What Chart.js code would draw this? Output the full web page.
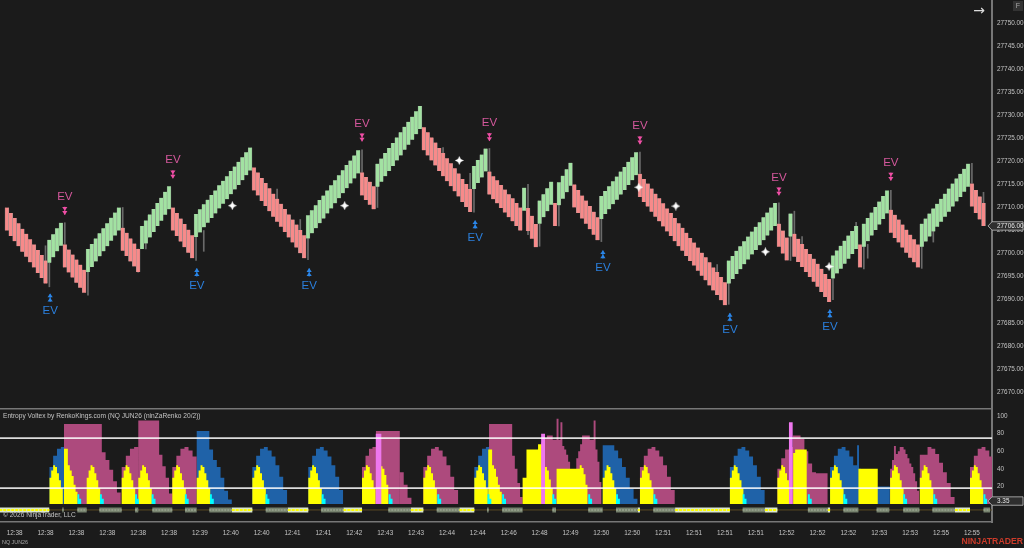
<!DOCTYPE html>
<html>
<head>
<meta charset="utf-8">
<title>NQ JUN26 Entropy Voltex</title>
<script src="https://cdn.jsdelivr.net/npm/chart.js@4"></script>
<style>
    html, body { margin: 0; background: #1b1b1b; overflow: hidden; }
    canvas { position: absolute; left: 0; display: block; }
    #priceChart { top: 0; }
    #voltexChart { top: 410px; }
</style>
</head>
<body>
<canvas id="priceChart" width="1024" height="410"></canvas>
<canvas id="voltexChart" width="1024" height="138"></canvas>
<script>
// Renko bricks, one row per swing
const barOpen = [
    27710.0,27708.8,27707.7,27706.6,27705.4,27704.3,27703.1,27702.0,27700.8,27699.7,27698.5,
    27698.0,27699.2,27700.5,27701.7,
    27702.0,27700.9,27699.8,27698.7,27697.6,27696.5,
    27696.0,27697.1,27698.3,27699.4,27700.5,27701.6,27702.8,27703.9,27705.0,
    27705.6,27704.5,27703.3,27702.2,27701.0,
    27701.0,27702.2,27703.5,27704.7,27706.0,27707.1,27708.4,27709.6,
    27710.0,27708.8,27707.6,27706.4,27705.2,27704.0,
    27703.6,27704.6,27705.7,27706.7,27707.7,27708.7,27709.8,27710.8,27711.8,27712.9,27713.9,27714.9,27715.9,27717.0,27718.0,
    27718.7,27717.6,27716.4,27715.3,27714.2,27713.0,27711.9,27710.8,27709.7,27708.5,27707.4,27706.3,27705.1,27704.0,
    27703.3,27704.4,27705.5,27706.6,27707.6,27708.7,27709.8,27710.9,27712.0,27713.1,27714.2,27715.2,27716.3,27717.4,
    27717.6,27716.6,27715.6,27714.6,
    27714.5,27715.6,27716.8,27717.9,27719.0,27720.2,27721.3,27722.5,27723.6,27724.7,27725.9,27727.0,
    27727.4,27726.3,27725.2,27724.1,27722.9,27721.8,27720.7,27719.6,27718.5,27717.4,27716.2,27715.1,27714.0,
    27714.0,27715.3,27716.5,27717.8,
    27717.8,27716.8,27715.9,27714.9,27713.9,27712.9,27712.0,27711.0,27710.0,
    27709.3,
    27709.9,27708.2,27706.4,
    27706.5,27707.9,27709.2,27710.6,
    27711.0,
    27710.5,27711.9,27713.3,27714.7,
    27715.0,27713.8,27712.6,27711.5,27710.3,27709.1,27707.9,
    27707.5,27708.6,27709.6,27710.7,27711.7,27712.8,27713.8,27714.9,27715.9,27717.0,
    27717.3,27716.2,27715.2,27714.1,27713.0,27712.0,27710.9,27709.8,27708.8,27707.7,27706.6,27705.6,27704.5,27703.4,27702.4,27701.3,27700.2,27699.2,27698.1,27697.0,27696.0,27694.9,27693.8,
    27693.5,27694.5,27695.6,27696.6,27697.7,27698.7,27699.8,27700.8,27701.8,27702.9,27703.9,27705.0,27706.0,
    27706.5,27705.0,27703.5,
    27703.7,
    27704.3,27703.2,27702.1,27701.0,27699.9,27698.9,27697.8,27696.7,27695.6,27694.5,
    27694.6,27695.7,27696.7,27697.8,27698.9,27699.9,27701.0,
    27702.0,
    27701.5,27702.7,27703.9,27705.1,27706.3,27707.5,27708.7,
    27709.5,27708.4,27707.4,27706.3,27705.2,27704.1,27703.1,27702.0,
    27701.5,27702.6,27703.7,27704.8,27705.8,27706.9,27708.0,27709.1,27710.2,27711.3,27712.3,27713.4,27714.5,
    27715.2,27713.8,27712.4,27711.0
];
const barClose = [
    27705.0,27703.8,27702.7,27701.6,27700.4,27699.3,27698.1,27697.0,27695.8,27694.7,27693.5,
    27703.0,27704.2,27705.5,27706.7,
    27697.0,27695.9,27694.8,27693.7,27692.6,27691.5,
    27701.0,27702.1,27703.3,27704.4,27705.5,27706.6,27707.8,27708.9,27710.0,
    27700.6,27699.5,27698.3,27697.2,27696.0,
    27706.0,27707.2,27708.5,27709.7,27711.0,27712.1,27713.4,27714.6,
    27705.0,27703.8,27702.6,27701.4,27700.2,27699.0,
    27708.6,27709.6,27710.7,27711.7,27712.7,27713.7,27714.8,27715.8,27716.8,27717.9,27718.9,27719.9,27720.9,27722.0,27723.0,
    27713.7,27712.6,27711.4,27710.3,27709.2,27708.0,27706.9,27705.8,27704.7,27703.5,27702.4,27701.3,27700.1,27699.0,
    27708.3,27709.4,27710.5,27711.6,27712.6,27713.7,27714.8,27715.9,27717.0,27718.1,27719.2,27720.2,27721.3,27722.4,
    27712.6,27711.6,27710.6,27709.6,
    27719.5,27720.6,27721.8,27722.9,27724.0,27725.2,27726.3,27727.5,27728.6,27729.7,27730.9,27732.0,
    27722.4,27721.3,27720.2,27719.1,27717.9,27716.8,27715.7,27714.6,27713.5,27712.4,27711.2,27710.1,27709.0,
    27719.0,27720.3,27721.5,27722.8,
    27712.8,27711.8,27710.9,27709.9,27708.9,27707.9,27707.0,27706.0,27705.0,
    27714.3,
    27704.9,27703.2,27701.4,
    27711.5,27712.9,27714.2,27715.6,
    27706.0,
    27715.5,27716.9,27718.3,27719.7,
    27710.0,27708.8,27707.6,27706.5,27705.3,27704.1,27702.9,
    27712.5,27713.6,27714.6,27715.7,27716.7,27717.8,27718.8,27719.9,27720.9,27722.0,
    27712.3,27711.2,27710.2,27709.1,27708.0,27707.0,27705.9,27704.8,27703.8,27702.7,27701.6,27700.6,27699.5,27698.4,27697.4,27696.3,27695.2,27694.2,27693.1,27692.0,27691.0,27689.9,27688.8,
    27698.5,27699.5,27700.6,27701.6,27702.7,27703.7,27704.8,27705.8,27706.8,27707.9,27708.9,27710.0,27711.0,
    27701.5,27700.0,27698.5,
    27708.7,
    27699.3,27698.2,27697.1,27696.0,27694.9,27693.9,27692.8,27691.7,27690.6,27689.5,
    27699.6,27700.7,27701.7,27702.8,27703.9,27704.9,27706.0,
    27697.0,
    27706.5,27707.7,27708.9,27710.1,27711.3,27712.5,27713.7,
    27704.5,27703.4,27702.4,27701.3,27700.2,27699.1,27698.1,27697.0,
    27706.5,27707.6,27708.7,27709.8,27710.8,27711.9,27713.0,27714.1,27715.2,27716.3,27717.3,27718.4,27719.5,
    27710.2,27708.8,27707.4,27706.0
];

// Wicks that stick out of the bricks
const wickBar = [10,11,15,21,30,34,36,49,51,70,76,78,92,96,113,120,121,125,135,138,143,154,164,184,187,200,203,204,206,214,220,222,223,229,237,240,250,253];
const wickLow = [27698,27692.8,27702,27691,27705,27696,27701,27698.5,27700.5,27711.5,27705,27698.7,27717.6,27710,27718,27714,27709,27717.8,27704.1,27701.6,27706,27702.6,27717.4,27693,27689,27706.4,27698.5,27704,27701,27690,27702,27696.7,27699,27709.5,27696.8,27702.5,27715.2,27711];
const wickHigh = [27701.7,27698,27706.7,27696,27710,27701,27704,27704,27705,27714,27707.4,27704,27722.5,27714.8,27723,27717.4,27714.3,27722.8,27715,27706.4,27711,27708,27722,27697.6,27693.8,27711,27704,27709.2,27703.7,27695,27706.8,27701.7,27702,27713.7,27702,27705.7,27719.6,27713.3];

// EV signals: bar position and price of the double arrow
const evTopBar = [15,43,92,125,164,200,229];
const evTopPrice = [27709.3,27717.2,27725.2,27725.3,27724.6,27713.5,27716.7];
const evBottomBar = [11.2,49.2,78.3,121.3,154.4,187.3,213.2];
const evBottomPrice = [27690.4,27695.9,27695.9,27706.3,27699.8,27686.2,27687];

// White sparkle markers
const sparkleBar = [58.4,87.5,117.2,163.7,173.3,196.5,213];
const sparklePrice = [27710.4,27710.4,27720.2,27714.4,27710.3,27700.4,27697.2];

const priceTicks = [27750,27745,27740,27735,27730,27725,27720,27715,27710,27705,27700,27695,27690,27685,27680,27675,27670];
const lastPrice = 27706;
const lastVoltex = 3.35;

// Time axis
const timeBars = [2,10,18,26,34,42,50,58,66,74,82,90,98,106,114,122,130,138,146,154,162,170,178,186,194,202,210,218,226,234,242,250];
const timeLabels = ['12:38','12:38','12:38','12:38','12:38','12:38','12:39','12:40','12:40','12:41','12:41','12:42','12:43','12:43','12:44','12:44','12:46','12:48','12:49','12:50','12:50','12:51','12:51','12:51','12:51','12:52','12:52','12:52','12:53','12:53','12:55','12:55'];

// Repeating voltex shapes
const yellowPulse = [30,38,44,42,35,27,18];
const cyanTail = [11,6];
const domeShape = [42,55,63,65,61,54,44,31,16];

// Voltex runs: [first bar, bar step, values]
const blueRuns = [
    [10.98,1,domeShape],
    [49.17,1.09,[83,83,83]],
    [52.44,0.97,[62,50,42,30,15,5]],
    [63.58,1,domeShape],
    [78.08,1,domeShape],
    [121.09,1,domeShape],
    [154.35,1,[67,67,67,61,52,42,30,17,6]],
    [187.3,1,domeShape],
    [213.25,1,[42,55,63,65,61,54,44]],
    [220.25,0.5,[67,40,25,20,20,20,20,20,20,20,20,20,20,20,20,20,20]]
];
const magentaRuns = [
    [14.79,0.98,[91,91,91,91,91,91,91,91,91,91]],
    [24.59,0.98,[59,50,39,26,13]],
    [29.74,1.07,[42,55,63,65]],
    [34.04,1.08,[95,95,95,95,95]],
    [39.44,0.85,[56,43,30,12]],
    [42.85,1.05,[42,55,63,65,61,54]],
    [92,0.9,[42,55,63,65]],
    [95.6,1.03,[83,83,83,83,83,83]],
    [101.8,1,[36,22,7]],
    [107.88,1,domeShape],
    [124.9,1,[91,91,91,91,91,91]],
    [130.9,0.68,[55,40,24,8]],
    [138.4,0.5,[70,70,75,78,78,78,73,73,97,73,93,66,62,56,48,38,30]],
    [147,0.5,[35,52,60,68,78,78,78,78,73,73,95,62,48,25]],
    [164,1,domeShape],
    [199.6,1,[40,52,62,65,78,78,74,60,46,36,35,35,35]],
    [228.8,0.5,[40,50,66,57,60,65,65,62,57,52,46,42,35,26,15]],
    [236.5,1,[56,56,65,63,57,47,36,24,8]],
    [249.5,1,domeShape]
];
const yellowRuns = [
    [10.98,0.5,yellowPulse],
    [14.79,0.5,[63,63,44,38,32,22,14]],
    [20.67,0.5,yellowPulse],
    [29.74,0.5,yellowPulse],
    [34.04,0.5,yellowPulse],
    [42.85,0.5,yellowPulse],
    [49.17,0.5,yellowPulse],
    [63.58,0.5,yellowPulse],
    [78.08,0.5,yellowPulse],
    [92,0.5,yellowPulse],
    [96.8,0.5,[43,40,33,22]],
    [107.88,0.5,yellowPulse],
    [121.09,0.5,yellowPulse],
    [124.7,0.5,[62,62,44,40,31,22,14]],
    [133.6,0.5,[30,30,62,62,62,62,62,62,68,68]],
    [139.4,0.5,[42,38,28,18]],
    [142.4,0.5,[40,40,40,40,40,40,40,40,40,40,40,40,44,41,34,22]],
    [154.35,0.5,yellowPulse],
    [164,0.5,yellowPulse],
    [187.3,0.5,yellowPulse],
    [199.6,0.5,yellowPulse],
    [203.7,0.5,[58,62,62,62,62,62,62]],
    [213.25,0.5,yellowPulse],
    [220.6,0.5,[40,40,40,40,40,40,40,40,40,40]],
    [228.8,0.5,yellowPulse],
    [236.5,0.5,yellowPulse],
    [249.5,0.5,yellowPulse]
];
const cyanRuns = [18.24,24.1,33.2,37.5,46.1,52.6,67,81.55,98.9,111.5,124.5,128.3,141.3,150.6,157.8,167.5,190.6,207.5,216.7,232.2,240,253].map(bar => [bar,0.5,cyanTail]);
const pinkRuns = [
    [95.5,0.5,[80,80,80]],
    [138.4,0.5,[80,80]],
    [202.6,0.5,[93,93]]
];

// Level lines of the voltex panel
const levelLines = [75,18];

// Strip under the voltex: grey and light blocks
const stripGrayStart = [14.35,18.24,23.94,33.2,37.67,46.14,52.43,67.05,81.4,98.8,111.35,124.4,128.3,141.3,150.6,157.8,167.45,190.6,207.5,216.7,225.3,232.2,239.75,253];
const stripGrayEnd = [14.7,20.67,29.74,34.04,42.85,49.17,58.24,72.75,87.15,104.6,117.2,124.8,133.6,142.25,154.35,163.4,173.1,196.4,212.6,220.6,228.6,236.4,245.6,254.7];
const stripLightStart = [-2,58.24,72.75,87.15,104.6,117.2,163.4,173.1,196.4,212.6,245.6];
const stripLightEnd = [10.98,63.58,78.08,92,107.88,121.09,164,187.3,199.6,213.25,249.5];

const FONT = "'Liberation Sans', Arial, sans-serif";
const AXIS = '#777777';
const AXIS_WIDTH = 32;
const BAR_MIN = -1.788;
const BAR_MAX = 255.2;
const STRIP_LEVEL = -6.8;

// Turn [start, step, values] runs into points for a stepped fill
function expandRuns(runs) {
    const points = [];
    runs.forEach(run => {
        const start = run[0], step = run[1], values = run[2];
        values.forEach((value, i) => points.push({ x: start + i * step, y: value }));
        points.push({ x: start + values.length * step, y: 0 });
    });
    return points;
}

function stripPoints(starts, ends) {
    const points = [];
    starts.forEach((start, i) => {
        points.push({ x: start, y: STRIP_LEVEL }, { x: ends[i], y: STRIP_LEVEL }, { x: ends[i], y: null });
    });
    return points;
}

function areaDataset(runs, color, order) {
    return {
        type: 'line', data: expandRuns(runs), stepped: true, fill: 'origin',
        backgroundColor: color, borderWidth: 0, pointRadius: 0, order: order
    };
}

function stripDataset(starts, ends, color, width, order, dash) {
    return {
        type: 'line', data: stripPoints(starts, ends), borderColor: color, borderWidth: width,
        borderDash: dash || [], borderCapStyle: 'butt', pointRadius: 0, fill: false, spanGaps: false, order: order
    };
}

// Small four pointed star used as point style
function makeSparkle() {
    const c = document.createElement('canvas');
    c.width = 9;
    c.height = 9;
    const g = c.getContext('2d');
    g.fillStyle = '#ffffff';
    g.beginPath();
    g.moveTo(4.5, 0);
    g.lineTo(5.9, 3.1);
    g.lineTo(9, 4.5);
    g.lineTo(5.9, 5.9);
    g.lineTo(4.5, 9);
    g.lineTo(3.1, 5.9);
    g.lineTo(0, 4.5);
    g.lineTo(3.1, 3.1);
    g.closePath();
    g.fill();
    return c;
}

// Stacked double arrow, dir 1 points down, -1 points up
function drawArrow(ctx, x, y, dir, color) {
    ctx.fillStyle = color;
    [-2.2, 2.0].forEach(off => {
        ctx.beginPath();
        ctx.moveTo(x, y + off + dir * 2.2);
        ctx.lineTo(x + 2.6, y + off - dir * 1.6);
        ctx.lineTo(x - 2.6, y + off - dir * 1.6);
        ctx.closePath();
        ctx.fill();
    });
    ctx.fillRect(x - 0.5, y - 4, 1, 8);
}

function drawTag(ctx, yPos, text) {
    ctx.beginPath();
    ctx.moveTo(988, yPos);
    ctx.lineTo(992, yPos - 4.2);
    ctx.lineTo(1023, yPos - 4.2);
    ctx.lineTo(1023, yPos + 4.2);
    ctx.lineTo(992, yPos + 4.2);
    ctx.closePath();
    ctx.fillStyle = '#2e2e2e';
    ctx.fill();
    ctx.strokeStyle = '#bdbdbd';
    ctx.lineWidth = 0.8;
    ctx.stroke();
    ctx.fillStyle = '#e8e8e8';
    ctx.font = '6.4px ' + FONT;
    ctx.textAlign = 'left';
    ctx.textBaseline = 'middle';
    ctx.fillText(text, 997, yPos + 0.3);
}

const priceOverlay = {
    id: 'priceOverlay',
    afterDraw(chart) {
        const ctx = chart.ctx;
        const xs = chart.scales.x, ys = chart.scales.y;
        ctx.save();
        evTopBar.forEach((bar, i) => {
            const x = xs.getPixelForValue(bar), y = ys.getPixelForValue(evTopPrice[i]);
            drawArrow(ctx, x, y, 1, '#f04fa6');
            ctx.fillStyle = '#d4589c';
            ctx.font = '11.5px ' + FONT;
            ctx.textAlign = 'center';
            ctx.textBaseline = 'middle';
            ctx.fillText('EV', x, y - 14);
        });
        evBottomBar.forEach((bar, i) => {
            const x = xs.getPixelForValue(bar), y = ys.getPixelForValue(evBottomPrice[i]);
            drawArrow(ctx, x, y, -1, '#2b86e8');
            ctx.fillStyle = '#2b7fdc';
            ctx.font = '11.5px ' + FONT;
            ctx.textAlign = 'center';
            ctx.textBaseline = 'middle';
            ctx.fillText('EV', x, y + 13);
        });

        drawTag(ctx, ys.getPixelForValue(lastPrice), lastPrice.toFixed(2));

        // Top right corner controls
        ctx.fillStyle = '#dcdcdc';
        ctx.font = '14px ' + "'DejaVu Sans', sans-serif";
        ctx.textAlign = 'center';
        ctx.textBaseline = 'middle';
        ctx.fillText('\u2192', 979, 11);
        ctx.fillStyle = '#333333';
        ctx.fillRect(1013, 1, 10, 10);
        ctx.fillStyle = '#a8a8a8';
        ctx.font = '7px ' + FONT;
        ctx.fillText('F', 1018, 6);
        ctx.restore();
    }
};

const voltexOverlay = {
    id: 'voltexOverlay',
    afterDraw(chart) {
        const ctx = chart.ctx;
        ctx.save();
        ctx.textAlign = 'left';
        ctx.textBaseline = 'middle';
        ctx.fillStyle = '#c4c4c4';
        ctx.font = '6.6px ' + FONT;
        ctx.fillText('Entropy Voltex by RenkoKings.com (NQ JUN26 (ninZaRenko 20/2))', 3, 6);
        ctx.fillText('\u00a9 2026 NinjaTrader, LLC', 3, 105);
        ctx.fillStyle = '#a8a8a8';
        ctx.font = '5.4px ' + FONT;
        ctx.fillText('NQ JUN26', 2, 133);
        ctx.fillStyle = '#cc3b2a';
        ctx.font = 'bold 8.7px ' + FONT;
        ctx.textAlign = 'right';
        ctx.fillText('NINJATRADER', 1023, 132);
        drawTag(ctx, chart.scales.y.getPixelForValue(lastVoltex), lastVoltex.toFixed(2));
        ctx.restore();
    }
};

// Axis boxes keep a fixed size and no label overhang, so pixels line up with the reference
function fitRightAxis(scale) {
    scale.width = AXIS_WIDTH;
    scale.paddingTop = 0;
    scale.paddingBottom = 0;
}

function fitBottomAxis(scale, height) {
    scale.height = height;
    scale.paddingLeft = 0;
    scale.paddingRight = 0;
}

// Price panel
function initializePriceChart() {
    const ctx = document.getElementById('priceChart').getContext('2d');
    window.priceChart = new Chart(ctx, {
        type: 'bar',
        data: {
            datasets: [
                {
                    type: 'line',
                    data: sparkleBar.map((bar, i) => ({ x: bar, y: sparklePrice[i] })),
                    showLine: false, pointStyle: makeSparkle(), pointRadius: 4.5, order: 0
                },
                {
                    data: barOpen.map((open, i) => ({ x: i, y: [open, barClose[i]] })),
                    backgroundColor: barOpen.map((open, i) => barClose[i] > open ? '#a2e2a2' : '#f78a8a'),
                    borderColor: '#8e8e8e',
                    borderWidth: { left: 0.5, right: 0.5, top: 0, bottom: 0 },
                    barThickness: 3.86, grouped: false, order: 1
                },
                {
                    data: wickBar.map((bar, i) => ({ x: bar, y: [wickLow[i], wickHigh[i]] })),
                    backgroundColor: '#6a6a6a', barThickness: 1, grouped: false, order: 2
                }
            ]
        },
        options: {
            responsive: false,
            animation: false,
            devicePixelRatio: 1,
            layout: { padding: 0, autoPadding: false },
            plugins: { legend: { display: false }, tooltip: { enabled: false } },
            scales: {
                x: {
                    type: 'linear', min: BAR_MIN, max: BAR_MAX, offset: false,
                    grid: { display: false, drawTicks: false },
                    border: { color: AXIS, width: 1.5 },
                    ticks: { display: false },
                    afterFit: scale => fitBottomAxis(scale, 1)
                },
                y: {
                    position: 'right', min: 27666.3, max: 27755,
                    grid: { display: false, tickLength: 3, tickColor: AXIS, drawTicks: true },
                    border: { color: AXIS, width: 2 },
                    afterBuildTicks: scale => { scale.ticks = priceTicks.map(v => ({ value: v })); },
                    afterFit: fitRightAxis,
                    ticks: {
                        color: '#c4c4c4', padding: 2, font: { size: 6.4, family: FONT },
                        callback: value => value.toFixed(2)
                    }
                }
            }
        },
        plugins: [priceOverlay]
    });
}

// Voltex panel
function initializeVoltexChart() {
    const ctx = document.getElementById('voltexChart').getContext('2d');
    const levelDatasets = levelLines.map(level => ({
        type: 'line', data: [{ x: BAR_MIN, y: level }, { x: BAR_MAX, y: level }],
        borderColor: 'rgba(255,255,255,0.85)', borderWidth: 1.8, pointRadius: 0, fill: false, order: 0
    }));
    window.voltexChart = new Chart(ctx, {
        type: 'line',
        data: {
            datasets: levelDatasets.concat([
                areaDataset(pinkRuns, '#ee77ee', 1),
                areaDataset(cyanRuns, '#00ffff', 2),
                areaDataset(yellowRuns, '#ffff00', 3),
                areaDataset(magentaRuns, '#ad4a7d', 4),
                areaDataset(blueRuns, '#1f62a8', 5),
                stripDataset([BAR_MIN], [BAR_MAX], '#5a4a22', 1, 9),
                stripDataset(stripGrayStart, stripGrayEnd, '#76826e', 5, 8),
                stripDataset(stripGrayStart, stripGrayEnd, '#9aa590', 1.4, 7, [2, 1]),
                stripDataset(stripLightStart, stripLightEnd, '#dbe8cc', 5, 8),
                stripDataset(stripLightStart, stripLightEnd, '#ffff00', 2, 7, [3, 1])
            ])
        },
        options: {
            responsive: false,
            animation: false,
            devicePixelRatio: 1,
            layout: { padding: 0, autoPadding: false },
            plugins: { legend: { display: false }, tooltip: { enabled: false } },
            scales: {
                x: {
                    type: 'linear', min: BAR_MIN, max: BAR_MAX,
                    grid: { display: false, tickLength: 3, tickColor: AXIS, drawTicks: true },
                    border: { color: AXIS, width: 1.5 },
                    afterBuildTicks: scale => { scale.ticks = timeBars.map(v => ({ value: v })); },
                    afterFit: scale => fitBottomAxis(scale, 26),
                    ticks: {
                        color: '#c4c4c4', padding: 4, maxRotation: 0, autoSkip: false,
                        font: { size: 6.4, family: FONT },
                        callback: value => timeLabels[timeBars.indexOf(value)]
                    }
                },
                y: {
                    position: 'right', min: -20.5, max: 107,
                    grid: { display: false, tickLength: 3, tickColor: AXIS, drawTicks: true },
                    border: { color: AXIS, width: 2 },
                    afterBuildTicks: scale => { scale.ticks = [100, 80, 60, 40, 20, 0].map(v => ({ value: v })); },
                    afterFit: fitRightAxis,
                    ticks: {
                        color: '#c4c4c4', padding: 2, font: { size: 6.4, family: FONT },
                        callback: value => value === 0 ? '' : value
                    }
                }
            }
        },
        plugins: [voltexOverlay]
    });
}

document.addEventListener('DOMContentLoaded', function() {
    initializePriceChart();
    initializeVoltexChart();
});
</script>
</body>
</html>
